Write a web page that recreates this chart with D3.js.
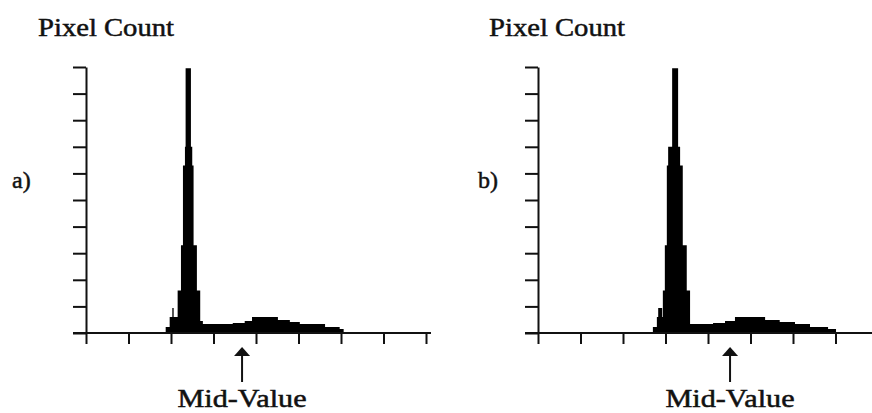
<!DOCTYPE html>
<html>
<head>
<meta charset="utf-8">
<script src="https://cdn.jsdelivr.net/npm/d3@7"></script>
<style>
  body { margin: 0; background: #fff; }
  svg { display: block; }
  .axis path, .axis line { stroke: #111; stroke-width: 2; }
  .label { font-family: "Liberation Serif", "DejaVu Serif", serif; fill: #111; stroke: #111; stroke-width: 0.5; }
</style>
</head>
<body>
<div id="chart"></div>
<script>
// gray-level bin edges and pixel counts (percent of full scale), panel a
const edgesA  = [60, 63, 65, 66, 69, 71.5, 73, 74.5, 75, 79, 80, 81, 83.5, 86, 88, 110.5, 119.5, 125, 144.5, 153.5, 161, 180, 191, 194]
const countsA = [2.3, 6, 9.4, 6, 16, 33, 63, 70, 99.5, 70, 63, 33, 16, 4.5, 3.4, 3.8, 4.5, 6, 4.9, 4.1, 3.4, 2.3, 1.5]

// panel b: same shape shifted toward brighter levels
const edgesB  = [86.5, 89.5, 90.5, 93.5, 94, 95.5, 97, 98, 98.5, 101, 105.5, 106.5, 107, 109, 112, 114.5, 131.8, 140.8, 148.3, 171, 182, 193.5, 204.8, 218.4, 224.4]
const countsB = [2.3, 6, 9.4, 6, 16, 33, 63, 70, 70, 99.5, 70, 70, 63, 33, 16, 3.4, 3.8, 4.5, 6, 4.9, 4.1, 3.4, 2.3, 1.5]

const midValues = [117.5, 144.6]
const panelNames = ['a)', 'b)']
const xTicks = d3.range(0, 257, 32)
const yTicks = d3.range(0, 101, 10)

const width = 872, height = 413
const svg = d3.select('#chart').append('svg')
    .attr('width', width)
    .attr('height', height)

const drawPanel = ({originX, edges, counts, mid, name, nameX, titleX}) => {
    const top = 67, plotH = 266, plotW = 340
    const x = d3.scaleLinear().domain([0, 256]).range([0, plotW])
    const y = d3.scaleLinear().domain([0, 100]).range([plotH, 0])

    const g = svg.append('g')
        .attr('transform', 'translate(' + originX + ',' + top + ')')

    // histogram as a stepped area
    const pts = counts.map((c, i) => [edges[i], c])
    pts.push([edges[edges.length - 1], 0])
    const area = d3.area()
        .x(d => x(d[0]))
        .y0(y(0))
        .y1(d => y(d[1]))
        .curve(d3.curveStepAfter)
    g.append('path')
        .attr('d', area(pts))
        .attr('fill', '#000')

    // y axis
    g.append('g')
        .attr('class', 'axis')
        .call(d3.axisLeft(y).tickValues(yTicks).tickSize(13).tickSizeOuter(0).tickFormat(''))
        .call(a => a.selectAll('.tick line').filter(d => d === 50).attr('stroke-width', 4))

    // x axis
    const xa = g.append('g')
        .attr('class', 'axis')
        .attr('transform', 'translate(0,' + plotH + ')')
        .call(d3.axisBottom(x).tickValues(xTicks).tickSize(11).tickSizeOuter(0).tickFormat(''))
    xa.select('.domain').remove()
    xa.append('line')
        .attr('x1', x(0) - 13).attr('x2', x(256) + 5)
        .attr('stroke', '#111').attr('stroke-width', 2)

    // mid-value arrow
    const mx = x(mid)
    g.append('line')
        .attr('x1', mx).attr('x2', mx)
        .attr('y1', plotH + 20).attr('y2', plotH + 49)
        .attr('stroke', '#111').attr('stroke-width', 2)
    g.append('path')
        .attr('d', d3.line()([[mx, plotH + 14], [mx - 8, plotH + 23], [mx + 8, plotH + 23]]) + 'Z')
        .attr('fill', '#111')

    g.append('text')
        .attr('class', 'label')
        .attr('x', mx).attr('y', plotH + 74)
        .attr('text-anchor', 'middle')
        .attr('font-size', 25)
        .attr('textLength', 129).attr('lengthAdjust', 'spacingAndGlyphs')
        .text('Mid-Value')

    svg.append('text')
        .attr('class', 'label')
        .attr('x', titleX).attr('y', 36)
        .attr('font-size', 26)
        .attr('textLength', 136).attr('lengthAdjust', 'spacingAndGlyphs')
        .text('Pixel Count')

    svg.append('text')
        .attr('class', 'label')
        .attr('x', nameX).attr('y', 188)
        .attr('font-size', 24)
        .text(name)
}

drawPanel({originX: 86, edges: edgesA, counts: countsA, mid: midValues[0], name: panelNames[0], nameX: 12, titleX: 38})
drawPanel({originX: 538, edges: edgesB, counts: countsB, mid: midValues[1], name: panelNames[1], nameX: 478, titleX: 489})
</script>
</body>
</html>
